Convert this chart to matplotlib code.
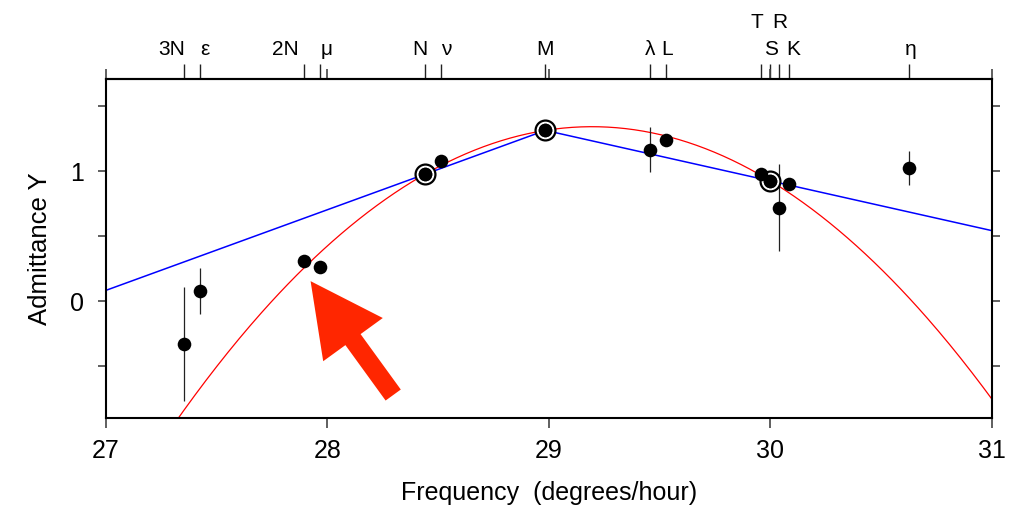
import numpy as np
import matplotlib
matplotlib.use('Agg')
import matplotlib.pyplot as plt

plt.rcParams['font.family'] = ['Liberation Sans', 'DejaVu Sans']

# semidiurnal constituents: name, frequency (deg/hour), admittance, error
names = ['3N', 'ε', '2N', 'μ', 'N', 'ν', 'M', 'λ', 'L', 'T', 'S', 'R', 'K', 'η']
freq = [27.3510, 27.4238, 27.8954, 27.9682, 28.4397, 28.5126, 28.9841,
        29.4556, 29.5285, 29.9589, 30.0000, 30.0411, 30.0821, 30.6265]
admit = [-0.328, 0.079, 0.313, 0.264, 0.977, 1.082, 1.315,
         1.167, 1.244, 0.982, 0.926, 0.718, 0.900, 1.025]
err = [0.44, 0.175, 0, 0, 0, 0, 0, 0.173, 0, 0, 0, 0.335, 0, 0.128]

# reference constituents used for the interpolation
ref = ['N', 'M', 'S']

# label nudges along x so the names do not collide, and which row they sit in
label_dx = {'3N': -0.055, 'ε': 0.023, '2N': -0.087, 'μ': 0.027, 'N': -0.02,
            'ν': 0.022, 'M': -0.002, 'λ': 0.0, 'L': 0.006, 'T': -0.018,
            'S': 0.002, 'R': 0.002, 'K': 0.022, 'η': 0.008}
upper_row = ['T', 'R']

freq = np.array(freq)
admit = np.array(admit)
err = np.array(err)

ri = [names.index(n) for n in ref]
rx, ry = freq[ri], admit[ri]

x0, x1 = 27, 31

# piecewise linear through the references, extended with the end slopes
s_lo = (ry[1] - ry[0]) / (rx[1] - rx[0])
s_hi = (ry[-1] - ry[-2]) / (rx[-1] - rx[-2])
lin_x = np.concatenate([[x0], rx, [x1]])
lin_y = np.concatenate([[ry[0] + s_lo * (x0 - rx[0])], ry,
                        [ry[-1] + s_hi * (x1 - rx[-1])]])

# quadratic through the same three references
coef = np.polyfit(rx, ry, 2)
qx = np.linspace(x0, x1, 400)
qy = np.polyval(coef, qx)

fig = plt.figure(figsize=(10.09, 5.07), dpi=100)
ax = fig.add_axes([0.105, 0.1755, 0.878, 0.6685])

ax.plot(lin_x, lin_y, color='#0000ff', lw=1.1, zorder=2)
ax.plot(qx, qy, color='#ff0000', lw=0.9, zorder=2)

has_err = err > 0
ax.vlines(freq[has_err], (admit - err)[has_err], (admit + err)[has_err],
          color='#222222', lw=0.9, zorder=3)
ax.plot(freq, admit, 'o', color='black', ms=9.8, mew=0, zorder=4)
ax.plot(rx, ry, 'o', mfc='white', mec='black', ms=14.3, mew=1.6, zorder=3.5)
ax.plot(rx, ry, 'o', color='black', ms=9.8, mew=0, zorder=4)

ax.annotate('', xy=(27.924, 0.154), xytext=(28.297, -0.723),
            arrowprops=dict(arrowstyle='simple,head_length=5.2,head_width=5.3,tail_width=1.35',
                            color='#ff2600', lw=0, shrinkA=0, shrinkB=0),
            annotation_clip=False, zorder=5)

ax.set_xlim(x0, x1)
ax.set_ylim(-0.9, 1.71)
ax.set_xticks([27, 28, 29, 30, 31])
ax.set_yticks([-0.5, 0, 0.5, 1, 1.5])
ax.set_yticklabels(['', '0', '', '1', ''])

for sp in ax.spines.values():
    sp.set_linewidth(1.5)

ax.tick_params(axis='x', direction='out', length=7, width=1.2, color='#444444',
               labelsize=18, pad=8, top=True)
ax.tick_params(axis='y', direction='out', length=6, width=1.2, color='#444444',
               labelsize=18, pad=10, right=True)

# constituent ticks along the top
top = ax.secondary_xaxis('top')
top.set_xticks(freq)
top.set_xticklabels([])
top.tick_params(direction='out', length=11, width=1.0, color='#222222')
top.spines['top'].set_linewidth(1.5)

tr = ax.get_xaxis_transform()
for n, f in zip(names, freq):
    yy = 1.168 if n in upper_row else 1.0885
    ax.text(f + label_dx[n], yy, n, transform=tr, ha='center', va='center',
            fontsize=15, clip_on=False)

ax.set_xlabel('Frequency  (degrees/hour)', fontsize=18, labelpad=13)
ax.set_ylabel('Admittance Y', fontsize=18.5, labelpad=13)

fig.savefig('out.png', dpi=100)
